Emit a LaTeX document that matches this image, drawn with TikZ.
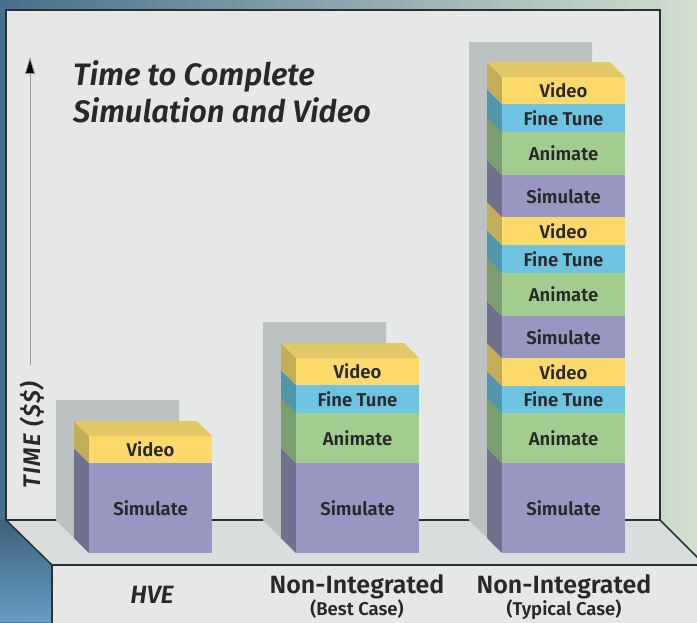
\documentclass[tikz,border=0pt]{standalone}
\usepackage{fontspec}
\setmainfont{Fira Sans}[BoldFont={* SemiBold},BoldItalicFont={* SemiBold Italic}]
\usetikzlibrary{arrows.meta}
\definecolor{BgLeft}{RGB}{70,112,142}
\definecolor{BgMid}{RGB}{165,191,200}
\definecolor{BgRight}{RGB}{211,223,207}
\definecolor{BgBlueTop}{RGB}{60,98,122}
\definecolor{BgBlueBot}{RGB}{104,157,194}
\definecolor{WallGray}{RGB}{230,232,232}
\definecolor{FloorGray}{RGB}{218,221,222}
\definecolor{ShadowGray}{RGB}{188,193,193}
\definecolor{EdgeDark}{RGB}{45,48,48}
\definecolor{InkDark}{RGB}{40,40,40}
\definecolor{VideoFront}{RGB}{251,217,107}
\definecolor{VideoTop}{RGB}{227,200,103}
\definecolor{VideoSide}{RGB}{196,173,87}
\definecolor{TuneFront}{RGB}{110,196,224}
\definecolor{TuneSide}{RGB}{80,151,172}
\definecolor{AnimFront}{RGB}{163,205,143}
\definecolor{AnimSide}{RGB}{122,158,110}
\definecolor{SimFront}{RGB}{151,151,194}
\definecolor{SimSide}{RGB}{113,113,143}
\newcommand{\barshadow}[2]{%
  \fill[ShadowGray] (#1-33,#2)--(#1+90,#2)--(#1+90,538)--(#1-15,538)--(#1-33,520)--cycle;}
\newcommand{\bartop}[2]{%
  \fill[VideoTop] (#1-15,#2-15)--(#1+108,#2-15)--(#1+123,#2)--(#1,#2)--cycle;}
\newcommand{\barseg}[6]{%
  \fill[#5Side] (#2-15,#3-15)--(#2,#3)--(#2,#4)--(#2-15,#4-15)--cycle;
  \fill[#5Front] (#2,#3) rectangle (#2+123,#4);
  \node[seglabel] (#1) at (#2+61.5,{(#3+#4)/2}) {#6};}

\begin{document}
\begin{tikzpicture}[x=1pt,y=-1pt,
  seglabel/.style={font=\bfseries\fontsize{18.5}{21}\selectfont,text=InkDark,inner sep=0pt},
  catlabel/.style={font=\bfseries\fontsize{25}{28}\selectfont,text=InkDark,inner sep=0pt,anchor=base},
  sublabel/.style={font=\bfseries\fontsize{18.5}{21}\selectfont,text=InkDark,inner sep=0pt,anchor=base}]
  \useasboundingbox (0,0) rectangle (697,622);
  \clip (0,0) rectangle (697,622);
  \shade[left color=BgLeft,middle color=BgMid,right color=BgRight] (0,0) rectangle (697,622);
  \shade[top color=BgBlueTop,bottom color=BgBlueBot] (0,520)--(6,520)--(52,565)--(52,622)--(0,622)--cycle;
  \filldraw[fill=WallGray,draw=EdgeDark,line width=2pt] (6,10) rectangle (660,520);
  \filldraw[fill=FloorGray,draw=EdgeDark,line width=1.5pt] (6,520)--(660,520)--(705,565)--(52,565)--cycle;
  \filldraw[fill=WallGray,draw=EdgeDark,line width=1.5pt] (52,630)--(52,565)--(710,565)--(710,630);

  \coordinate (axisbot) at (30,365);
  \coordinate (axistop) at (30,57);
  \draw[gray!80,line width=0.8pt,-{Triangle[length=17pt,width=10pt,fill=black]}] (axisbot)--(axistop);
  \node[rotate=90,text=InkDark,inner sep=0pt,
    font=\bfseries\itshape\fontsize{24}{28}\selectfont\addfontfeature{LetterSpace=6}] (timelabel) at (32,435) {TIME (\$\$)};
  \node[anchor=base west,inner sep=0pt,text=InkDark,font=\bfseries\itshape\fontsize{31}{36}\selectfont] (title1) at (73,85) {Time to Complete};
  \node[anchor=base west,inner sep=0pt,text=InkDark,font=\bfseries\itshape\fontsize{31}{36}\selectfont] (title2) at (73,122) {Simulation and Video};

  \barshadow{89}{400}
  \barseg{hvesim}{89}{463}{553}{Sim}{Simulate}
  \barseg{hvevid}{89}{436}{463}{Video}{Video}
  \bartop{89}{436}

  \barshadow{296}{322}
  \barseg{bestsim}{296}{463}{553}{Sim}{Simulate}
  \barseg{bestani}{296}{413}{463}{Anim}{Animate}
  \barseg{besttun}{296}{385}{413}{Tune}{Fine Tune}
  \barseg{bestvid}{296}{358}{385}{Video}{Video}
  \bartop{296}{358}

  \barshadow{502}{42}
  \barseg{typsimA}{502}{463}{553}{Sim}{Simulate}
  \barseg{typaniA}{502}{413}{463}{Anim}{Animate}
  \barseg{typtunA}{502}{386}{413}{Tune}{Fine Tune}
  \barseg{typvidA}{502}{358}{386}{Video}{Video}
  \barseg{typsimB}{502}{316}{358}{Sim}{Simulate}
  \barseg{typaniB}{502}{273}{316}{Anim}{Animate}
  \barseg{typtunB}{502}{245}{273}{Tune}{Fine Tune}
  \barseg{typvidB}{502}{217}{245}{Video}{Video}
  \barseg{typsimC}{502}{175}{217}{Sim}{Simulate}
  \barseg{typaniC}{502}{132}{175}{Anim}{Animate}
  \barseg{typtunC}{502}{104}{132}{Tune}{Fine Tune}
  \barseg{typvidC}{502}{77}{104}{Video}{Video}
  \bartop{502}{77}

  \node[catlabel,font=\bfseries\itshape\fontsize{25}{28}\selectfont] (hve) at (152,603) {HVE};
  \node[catlabel] (bestcat) at (357,593) {Non-Integrated};
  \node[sublabel] (bestsub) at (357,615) {(Best Case)};
  \node[catlabel] (typcat) at (564,593) {Non-Integrated};
  \node[sublabel] (typsub) at (564,615) {(Typical Case)};
\end{tikzpicture}
\end{document}
